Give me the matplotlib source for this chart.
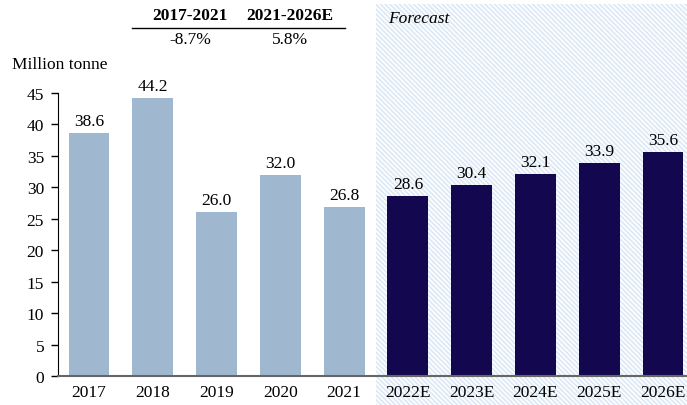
import matplotlib.pyplot as plt
from matplotlib.patches import Rectangle

years = ["2017", "2018", "2019", "2020", "2021", "2022E", "2023E", "2024E", "2025E", "2026E"]
values = [38.6, 44.2, 26.0, 32.0, 26.8, 28.6, 30.4, 32.1, 33.9, 35.6]
n_hist = 5
cagr_periods = ["2017-2021", "2021-2026E"]
cagr_values = ["-8.7%", "5.8%"]

HIST_COLOR = "#9fb8d0"
FCST_COLOR = "#13084f"
FS = 12.5

plt.rcParams["font.family"] = ["Liberation Serif", "DejaVu Serif"]
plt.rcParams["hatch.color"] = "#dde9f6"
plt.rcParams["hatch.linewidth"] = 1.3

fig = plt.figure(figsize=(6.87, 4.06), dpi=100)
ax = fig.add_axes([58 / 687, 1 - 377 / 406, 1 - 58 / 687, (377 - 94) / 406])
ax.set_facecolor("none")

# forecast shaded band, spans past the axes into the tick label area
band = Rectangle((376 / 687, 0), 1 - 376 / 687, 1 - 5 / 406, transform=fig.transFigure,
                 facecolor="white", edgecolor="#dde9f6", hatch="\\" * 7, linewidth=0, zorder=-5)
fig.patches.append(band)

x = list(range(len(years)))
colors = [HIST_COLOR] * n_hist + [FCST_COLOR] * (len(years) - n_hist)
bars = ax.bar(x, values, width=0.64, color=colors, zorder=2)
for b, v in zip(bars, values):
    ax.annotate(f"{v:.1f}", (b.get_x() + b.get_width() / 2, v), xytext=(0, 3),
                textcoords="offset points", ha="center", va="bottom", fontsize=FS, clip_on=False)

ax.set_xlim(-0.486, 9.376)
ax.set_ylim(0, 45)
ax.set_yticks(range(0, 46, 5))
ax.set_xticks(x)
ax.set_xticklabels(years)
ax.tick_params(axis="x", length=0, labelsize=FS, pad=6)
ax.tick_params(axis="y", length=5, width=1, labelsize=FS, pad=5)
for s in ["top", "right"]:
    ax.spines[s].set_visible(False)
ax.spines["left"].set_color("black")
ax.spines["bottom"].set_color("#666666")
ax.spines["bottom"].set_linewidth(1.5)

fig.text(12 / 687, 1 - 65 / 406, "Million tonne", fontsize=FS, va="center", ha="left")
fig.text(388 / 687, 1 - 19 / 406, "Forecast", fontsize=FS, style="italic", va="center", ha="left")

# CAGR header table
for cx, period, val in zip([190, 290], cagr_periods, cagr_values):
    fig.text(cx / 687, 1 - 16 / 406, period, fontsize=FS, weight="bold", ha="center", va="center")
    fig.text(cx / 687, 1 - 40 / 406, val, fontsize=FS, ha="center", va="center")
fig.add_artist(plt.Line2D([132 / 687, 345 / 687], [1 - 29 / 406] * 2, color="black", linewidth=1))

fig.savefig("out.png", dpi=100)
